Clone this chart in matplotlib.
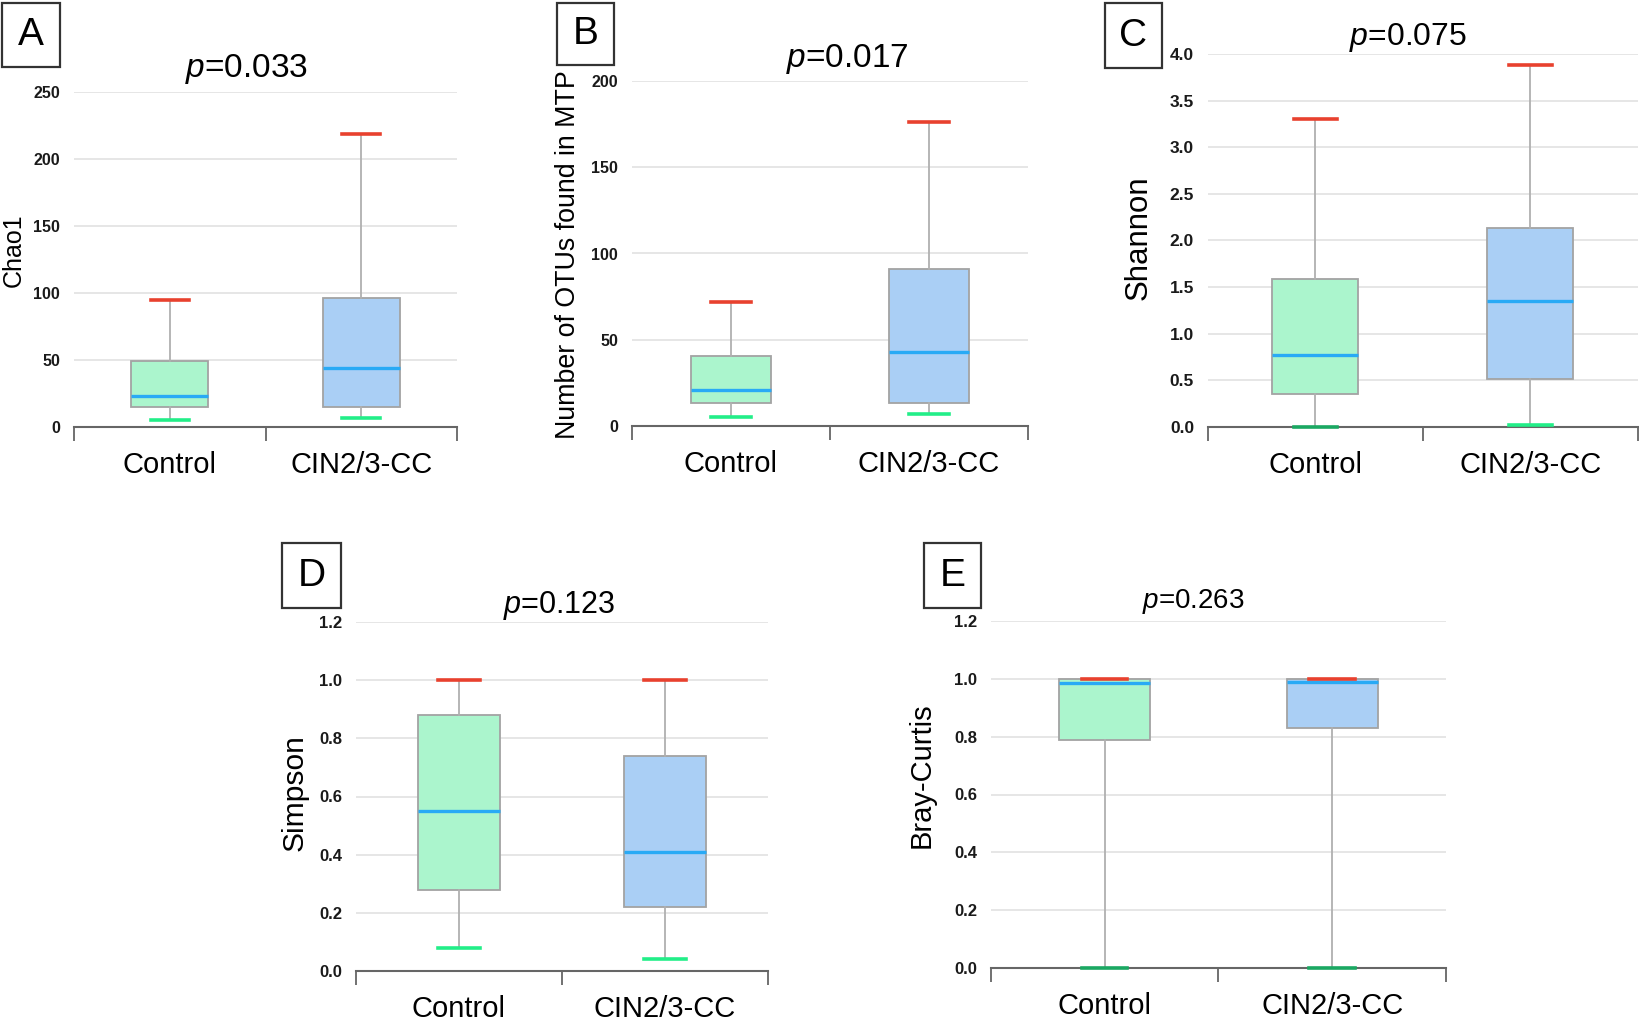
import numpy as np
import matplotlib
matplotlib.use("Agg")
import matplotlib.pyplot as plt
from matplotlib.patches import Rectangle
from matplotlib.ticker import FormatStrFormatter

plt.rcParams['font.family'] = ['Liberation Sans', 'DejaVu Sans']
plt.rcParams['mathtext.fontset'] = 'custom'
plt.rcParams['mathtext.rm'] = 'Liberation Sans'
plt.rcParams['mathtext.it'] = 'Liberation Sans:italic'

groups = ['Control', 'CIN2/3-CC']

# box stats: low whisker, q1, median, q3, high whisker
chao1_low = [5, 7]
chao1_q1 = [15, 15]
chao1_med = [23, 44]
chao1_q3 = [49, 96]
chao1_high = [95, 219]

otus_low = [5, 7]
otus_q1 = [13.5, 13.5]
otus_med = [21, 43]
otus_q3 = [40.5, 91]
otus_high = [72, 176]

shannon_low = [0.0, 0.02]
shannon_q1 = [0.35, 0.51]
shannon_med = [0.77, 1.35]
shannon_q3 = [1.59, 2.13]
shannon_high = [3.3, 3.88]

simpson_low = [0.08, 0.04]
simpson_q1 = [0.28, 0.22]
simpson_med = [0.55, 0.41]
simpson_q3 = [0.88, 0.74]
simpson_high = [1.0, 1.0]

bray_low = [0.0, 0.0]
bray_q1 = [0.79, 0.83]
bray_med = [0.985, 0.99]
bray_q3 = [1.0, 1.0]
bray_high = [1.0, 1.0]

p_values = ['0.033', '0.017', '0.075', '0.123', '0.263']

W, H = 1640, 1034
fig = plt.figure(figsize=(16.4, 10.34), dpi=100)
fig.patch.set_facecolor('white')

box_colors = ['#abf5cd', '#aacff5']
cap_hi = '#e8412e'
cap_lo = '#22ee88'
cap_lo_axis = '#1aa862'   # low cap sitting on the axis line looks darker


def px_axes(x0, x1, y_top, y_bot):
    return fig.add_axes([x0 / W, 1 - y_bot / H, (x1 - x0) / W, (y_bot - y_top) / H])


def panel(letter, ax_px, data, yticks, fmt, ylabel, ylab_px, ylab_size,
          pval, title_px, title_size, box_px, tick_size):
    ax = px_axes(*ax_px)
    lo, q1, med, q3, hi = data
    stats = [dict(label=g, whislo=lo[i], q1=q1[i], med=med[i], q3=q3[i], whishi=hi[i])
             for i, g in enumerate(groups)]
    pos = np.arange(len(groups)) + 0.5
    bp = ax.bxp(stats, positions=pos, widths=0.4, capwidths=0.2,
                patch_artist=True, showfliers=False, manage_ticks=False,
                boxprops=dict(edgecolor='#a3a3a3', linewidth=1.3),
                medianprops=dict(color='#29aaf5', linewidth=2.4),
                whiskerprops=dict(color='#b0b0b0', linewidth=1.3),
                capprops=dict(linewidth=2.6))
    for patch, c in zip(bp['boxes'], box_colors):
        patch.set_facecolor(c)
    for i, cap in enumerate(bp['caps']):
        cap.set_zorder(4)
        if i % 2:
            cap.set_color(cap_hi)
        else:
            cap.set_color(cap_lo_axis if lo[i // 2] == 0 else cap_lo)
    for k in ['boxes', 'medians', 'whiskers', 'caps']:
        for a in bp[k]:
            a.set_clip_on(False)

    ax.set_xlim(0, len(groups))
    ax.set_ylim(0, yticks[-1])
    ax.set_yticks(yticks)
    ax.yaxis.set_major_formatter(FormatStrFormatter(fmt))
    ax.yaxis.grid(True, color='#e4e4e4', linewidth=1.3)
    ax.set_axisbelow(True)
    for s in ['top', 'left', 'right']:
        ax.spines[s].set_visible(False)
    ax.spines['bottom'].set_color('#666666')
    ax.spines['bottom'].set_linewidth(1.5)
    ax.tick_params(axis='y', length=0, pad=10, labelsize=tick_size)
    for t in ax.get_yticklabels():
        t.set_fontweight('bold')
        t.set_color('#1a1a1a')
    ax.set_xticks(pos, groups)
    ax.tick_params(axis='x', which='major', length=0, labelsize=21, pad=17)
    ax.set_xticks(np.arange(len(groups) + 1), minor=True)
    ax.tick_params(axis='x', which='minor', length=10, width=1.3, color='#666666')

    fig.text(ylab_px[0] / W, 1 - ylab_px[1] / H, ylabel, rotation=90,
             ha='center', va='center', fontsize=ylab_size)
    fig.text(title_px[0] / W, 1 - title_px[1] / H, r'$\mathit{p}$=' + pval,
             ha='center', va='center', fontsize=title_size)
    bx0, bx1, by0, by1 = box_px
    fig.add_artist(Rectangle((bx0 / W, 1 - by1 / H), (bx1 - bx0) / W, (by1 - by0) / H,
                             transform=fig.transFigure, facecolor='white',
                             edgecolor='#333333', linewidth=1.6))
    fig.text((bx0 + bx1) / 2 / W, 1 - (by0 + by1) / 2 / H, letter,
             ha='center', va='center', fontsize=28)
    return ax


panel('A', (74, 457, 92, 427),
      (chao1_low, chao1_q1, chao1_med, chao1_q3, chao1_high),
      [0, 50, 100, 150, 200, 250], '%d', 'Chao1', (14, 250), 18,
      p_values[0], (247, 69), 24, (2, 60, 3, 67), 11.5)

panel('B', (632, 1028, 81, 426),
      (otus_low, otus_q1, otus_med, otus_q3, otus_high),
      [0, 50, 100, 150, 200], '%d', 'Number of OTUs found in MTP', (568, 255), 19.3,
      p_values[1], (847, 59), 24, (557, 614, 3, 65), 11.5)

panel('C', (1208, 1638, 54, 427),
      (shannon_low, shannon_q1, shannon_med, shannon_q3, shannon_high),
      [0, 0.5, 1.0, 1.5, 2.0, 2.5, 3.0, 3.5, 4.0], '%.1f', 'Shannon', (1139, 238), 22.5,
      p_values[2], (1408, 38), 23, (1105, 1162, 3, 68), 12.5)

panel('D', (356, 768, 622, 971),
      (simpson_low, simpson_q1, simpson_med, simpson_q3, simpson_high),
      [0, 0.2, 0.4, 0.6, 0.8, 1.0, 1.2], '%.1f', 'Simpson', (295, 793), 21.6,
      p_values[3], (559, 606), 22, (282, 341, 543, 608), 12)

panel('E', (991, 1446, 621, 968),
      (bray_low, bray_q1, bray_med, bray_q3, bray_high),
      [0, 0.2, 0.4, 0.6, 0.8, 1.0, 1.2], '%.1f', 'Bray-Curtis', (922, 775), 21,
      p_values[4], (1193, 602), 20, (924, 981, 543, 608), 12)

fig.savefig('out.png', dpi=100)
